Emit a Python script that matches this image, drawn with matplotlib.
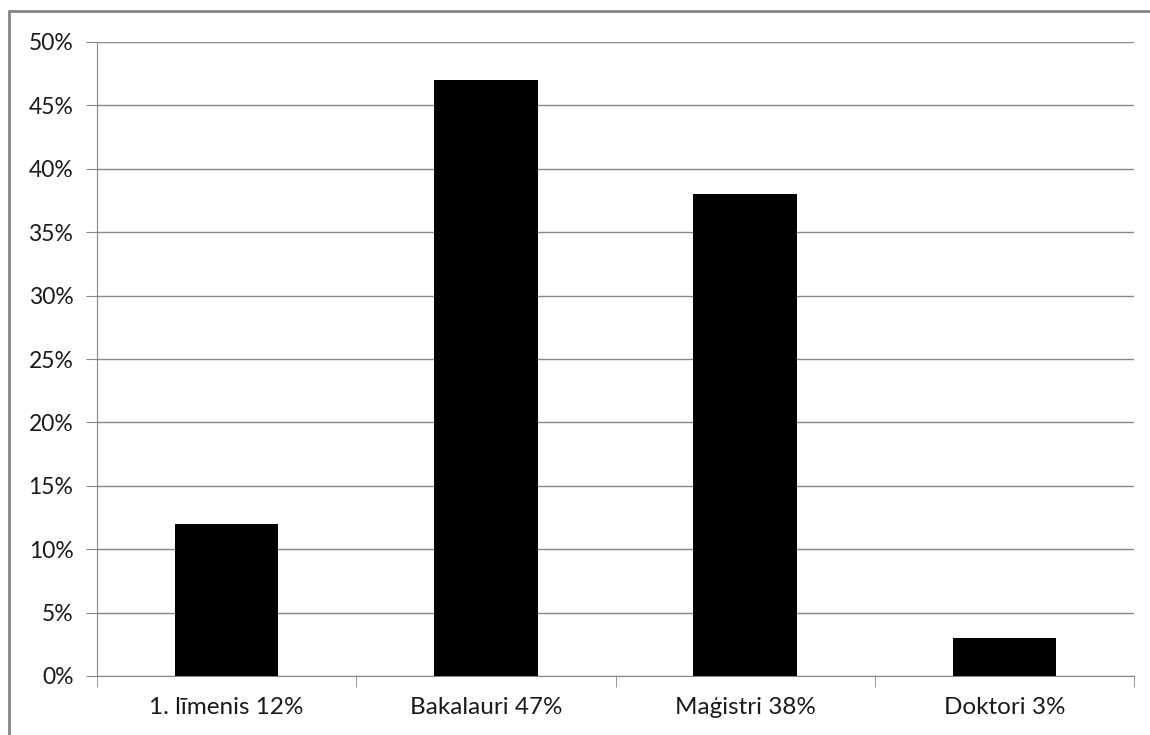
import matplotlib
matplotlib.use("Agg")
import matplotlib.pyplot as plt
from matplotlib.patches import Rectangle
from matplotlib.ticker import MultipleLocator, PercentFormatter

plt.rcParams["font.family"] = ["Lato", "DejaVu Sans"]

categories = ["1. līmenis 12%", "Bakalauri 47%", "Maģistri 38%", "Doktori 3%"]
values = [12, 47, 38, 3]

W, H = 1150, 735
fig = plt.figure(figsize=(W / 100, H / 100), dpi=100)
ax = fig.add_axes([97 / W, 1 - 676 / H, (1134 - 97) / W, (676 - 42) / H])

# outer chart border (right/bottom run off the picture)
fig.patches.append(Rectangle((9 / W, -0.05), 1.2, 1 - 11 / H + 0.05, transform=fig.transFigure,
                             fill=False, edgecolor="#868686", linewidth=2))

x = range(len(categories))
ax.bar(x, values, width=0.4, color="black", zorder=3)

ax.set_xlim(-0.5, len(categories) - 0.5)
ax.set_ylim(0, 50)
ax.yaxis.set_major_locator(MultipleLocator(5))
ax.yaxis.set_major_formatter(PercentFormatter(decimals=0))
ax.grid(axis="y", color="#888888", linewidth=1, zorder=0)

ax.set_xticks(list(x))
ax.set_xticklabels(categories)
ax.tick_params(axis="x", length=0, pad=15, labelsize=17.5, colors="#1a1a1a")
ax.set_xticks([i - 0.5 for i in range(len(categories) + 1)], minor=True)
ax.tick_params(axis="x", which="minor", length=8, color="#888888")
ax.tick_params(axis="y", length=8, color="#888888", labelsize=16.5, labelcolor="#1a1a1a", pad=9)

for s in ["top", "right"]:
    ax.spines[s].set_visible(False)
for s in ["left", "bottom"]:
    ax.spines[s].set_color("#888888")

fig.savefig("out.png", dpi=100)
